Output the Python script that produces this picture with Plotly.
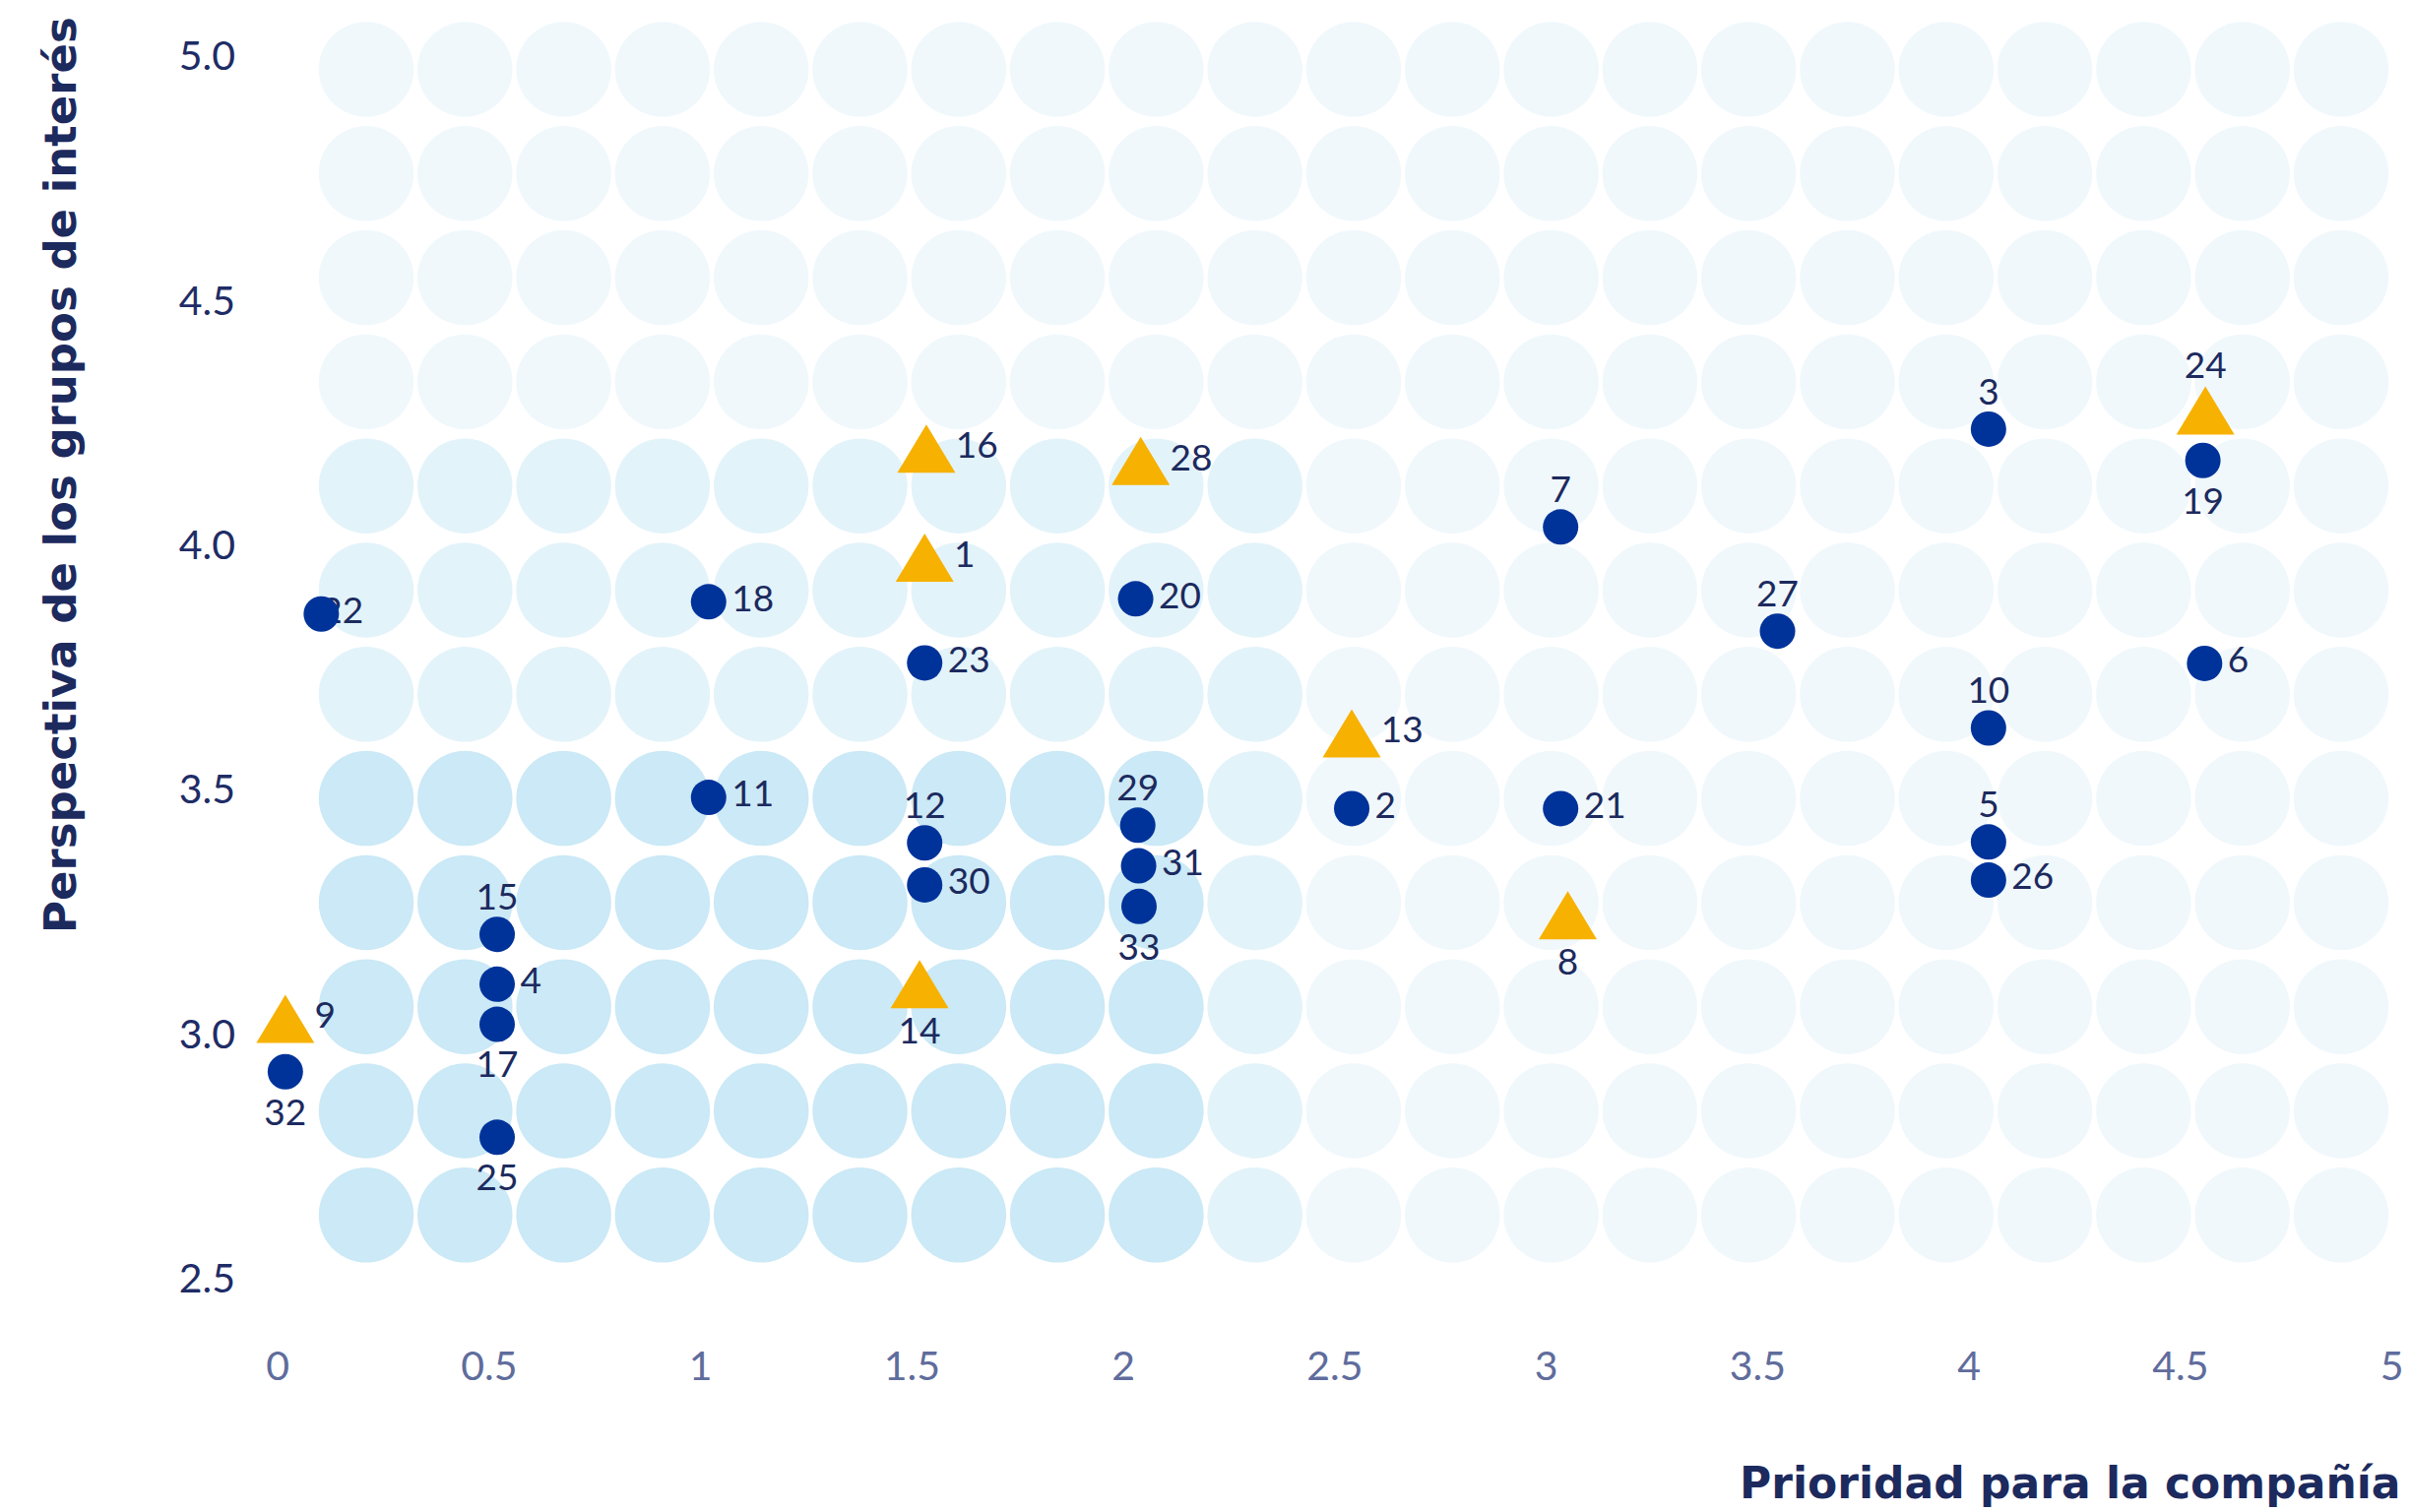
import plotly.graph_objects as go

# ---------------- data ----------------
LABELS = list(range(1, 34))
PRIORIDAD = [1.530, 2.540, 4.046, 0.519, 4.046, 4.557, 3.034, 3.051, 0.018, 4.046,
             1.019, 1.530, 2.540, 1.518, 0.519, 1.534, 0.519, 1.019, 4.553, 2.029,
             3.034, 0.103, 1.530, 4.559, 0.519, 4.046, 3.547, 2.041, 2.034, 1.530,
             2.036, 0.018, 2.037]
PERSPECTIVA = [3.974, 3.461, 4.237, 3.102, 3.393, 3.758, 4.037, 3.243, 3.031, 3.626,
               3.484, 3.391, 3.615, 3.102, 3.204, 4.197, 3.020, 3.884, 4.173, 3.890,
               3.461, 3.859, 3.759, 4.275, 2.789, 3.315, 3.824, 4.172, 3.427, 3.305,
               3.344, 2.923, 3.261]
TIPO = ['tri', 'dot', 'dot', 'dot', 'dot', 'dot', 'dot', 'tri', 'tri', 'dot',
        'dot', 'dot', 'tri', 'tri', 'dot', 'tri', 'dot', 'dot', 'dot', 'dot',
        'dot', 'dot', 'dot', 'tri', 'dot', 'dot', 'dot', 'tri', 'dot', 'dot',
        'dot', 'dot', 'dot']

X_TITLE = "Prioridad para la compañía"
Y_TITLE = "Perspectiva de los grupos de interés"

# background grid of circles (columns x rows) and its shaded zones
N_COLS, N_ROWS = 21, 12
DARK_COLS, DARK_ROWS = range(0, 9), range(7, 12)
MID_COLS, MID_ROWS = range(0, 10), range(4, 12)

# ---------------- label placement (style) ----------------
LABEL_POS = {1: 'r', 2: 'r', 3: 't', 4: 'r', 5: 't', 6: 'r', 7: 't', 8: 'b', 9: 'r',
             10: 't', 11: 'r', 12: 't', 13: 'r', 14: 'b', 15: 't', 16: 'r', 17: 'b',
             18: 'r', 19: 'b', 20: 'r', 21: 'r', 22: 'under', 23: 'r', 24: 't',
             25: 'b', 26: 'r', 27: 't', 28: 'r', 29: 't', 30: 'r', 31: 'r', 32: 'b',
             33: 'b'}
POS_NAME = {'r': 'middle right', 't': 'top center', 'b': 'bottom center'}
OFFSET_SIZE = {('dot', 'r'): 36, ('dot', 't'): 24, ('dot', 'b'): 40,
               ('tri', 'r'): 46, ('tri', 't'): 36, ('tri', 'b'): 50}

# ---------------- layout geometry ----------------
W, H = 2448, 1536
OFF = 8                       # page body margin of the html page
ML, MR, MT, MB = 242, 8, 0, 234
PLOT_W, PLOT_H = W - ML - MR, H - MT - MB
P_LEFT, P_TOP = OFF + ML, OFF + MT          # plot area on the page
P_RIGHT, P_BOT = P_LEFT + PLOT_W, P_TOP + PLOT_H

# axis scales (page pixels)
X_ORIGIN_PX, X_PX_PER_UNIT = 282.1, 429.5    # where x = 0 sits, px per unit
Y_REF_VAL, Y_REF_PX, Y_PX_PER_UNIT = 3.75, 677.9, 496.8
X_RANGE = [(P_LEFT - X_ORIGIN_PX) / X_PX_PER_UNIT, (P_RIGHT - X_ORIGIN_PX) / X_PX_PER_UNIT]
Y_RANGE = [Y_REF_VAL + (Y_REF_PX - P_BOT) / Y_PX_PER_UNIT,
           Y_REF_VAL + (Y_REF_PX - P_TOP) / Y_PX_PER_UNIT]

# background grid scale (page pixels)
G_X0, G_DX, G_Y0, G_DY = 372.0, 100.3, 70.5, 105.8
GRID_XR = [(P_LEFT - G_X0) / G_DX, (P_RIGHT - G_X0) / G_DX]
GRID_YR = [(P_BOT - G_Y0) / G_DY, (P_TOP - G_Y0) / G_DY]

NAVY = '#1c2a5e'
DOT = '#00339a'
ORANGE = '#f7b100'
C_DARK, C_MID, C_LIGHT = '#cbe9f6', '#e3f3fa', '#f0f8fc'
DOT_SIZE = 36
TRI_W, TRI_H = 59, 49
BG_SIZE = 96.5
LABEL_FONT = dict(family='Lato', size=37, color=NAVY)

fig = go.Figure()

# background circles
bx, by, bc = [], [], []
for r in range(N_ROWS):
    for c in range(N_COLS):
        bx.append(c)
        by.append(r)
        if c in DARK_COLS and r in DARK_ROWS:
            bc.append(C_DARK)
        elif c in MID_COLS and r in MID_ROWS:
            bc.append(C_MID)
        else:
            bc.append(C_LIGHT)
fig.add_trace(go.Scatter(x=bx, y=by, mode='markers', xaxis='x', yaxis='y',
                         marker=dict(size=BG_SIZE, color=bc, line=dict(width=0)),
                         hoverinfo='skip'))

# triangles built around each data point
px_x = PLOT_W / (X_RANGE[1] - X_RANGE[0])
px_y = PLOT_H / (Y_RANGE[1] - Y_RANGE[0])
hw, hh = TRI_W / 2 / px_x, TRI_H / 2 / px_y
tx, ty = [], []
for x, y, t in zip(PRIORIDAD, PERSPECTIVA, TIPO):
    if t == 'tri':
        tx += [x - hw, x + hw, x, x - hw, None]
        ty += [y - hh, y - hh, y + hh, y - hh, None]
fig.add_trace(go.Scatter(x=tx, y=ty, mode='lines', fill='toself', fillcolor=ORANGE,
                         line=dict(width=0, color=ORANGE), xaxis='x2', yaxis='y2',
                         hoverinfo='skip'))

# label hidden under its marker (drawn before the dots)
ux = [x for x, l in zip(PRIORIDAD, LABELS) if LABEL_POS[l] == 'under']
uy = [y for y, l in zip(PERSPECTIVA, LABELS) if LABEL_POS[l] == 'under']
ut = [str(l) for l in LABELS if LABEL_POS[l] == 'under']
fig.add_trace(go.Scatter(x=ux, y=uy, text=ut, mode='text', textposition='middle right',
                         textfont=LABEL_FONT, xaxis='x2', yaxis='y2', hoverinfo='skip'))

# dots
dx = [x for x, t in zip(PRIORIDAD, TIPO) if t == 'dot']
dy = [y for y, t in zip(PERSPECTIVA, TIPO) if t == 'dot']
fig.add_trace(go.Scatter(x=dx, y=dy, mode='markers', xaxis='x2', yaxis='y2',
                         marker=dict(size=DOT_SIZE, color=DOT, line=dict(width=0)),
                         hoverinfo='skip', cliponaxis=False))

# labels, grouped by the offset they need from their marker
for (kind, pos), size in OFFSET_SIZE.items():
    gx, gy, gt, gp = [], [], [], []
    for x, y, t, l in zip(PRIORIDAD, PERSPECTIVA, TIPO, LABELS):
        if t == kind and LABEL_POS[l] == pos:
            gx.append(x); gy.append(y); gt.append(str(l)); gp.append(POS_NAME[pos])
    if not gx:
        continue
    fig.add_trace(go.Scatter(x=gx, y=gy, text=gt, mode='markers+text', textposition=gp,
                             textfont=LABEL_FONT, xaxis='x2', yaxis='y2',
                             marker=dict(size=size, color='rgba(0,0,0,0)', line=dict(width=0)),
                             hoverinfo='skip', cliponaxis=False))

axis_common = dict(showgrid=False, zeroline=False, showline=False, ticks='',
                   automargin=False, ticklabeloverflow='allow')
fig.update_layout(
    width=W, height=H, template='none', showlegend=False,
    paper_bgcolor='white', plot_bgcolor='white',
    margin=dict(l=ML, r=MR, t=MT, b=MB, pad=0),
    xaxis=dict(range=GRID_XR, visible=False),
    yaxis=dict(range=GRID_YR, visible=False),
    xaxis2=dict(overlaying='x', anchor='y2', side='bottom', range=X_RANGE,
                tick0=0, dtick=0.5, ticklabelstandoff=50,
                tickfont=dict(family='Lato', size=41, color='#606c9c'), **axis_common),
    yaxis2=dict(overlaying='y', anchor='x2', side='left', range=Y_RANGE,
                tick0=0, dtick=0.5, tickformat='.1f', ticklabelstandoff=10,
                tickfont=dict(family='Lato', size=41, color='#1f2c66'), **axis_common),
    annotations=[
        dict(text=X_TITLE, xref='paper', yref='paper', x=(2440 - P_LEFT) / PLOT_W,
             y=(P_BOT - 1506) / PLOT_H, xanchor='right', yanchor='middle', showarrow=False,
             font=dict(family='DejaVu Sans', size=44, color=NAVY, weight=700)),
        dict(text=Y_TITLE, xref='paper', yref='paper', x=(61 - P_LEFT) / PLOT_W,
             y=(P_BOT - 483) / PLOT_H, xanchor='center', yanchor='middle', textangle=-90,
             showarrow=False,
             font=dict(family='DejaVu Sans', size=45, color=NAVY, weight=700)),
    ],
)

fig.write_html("out.html")
